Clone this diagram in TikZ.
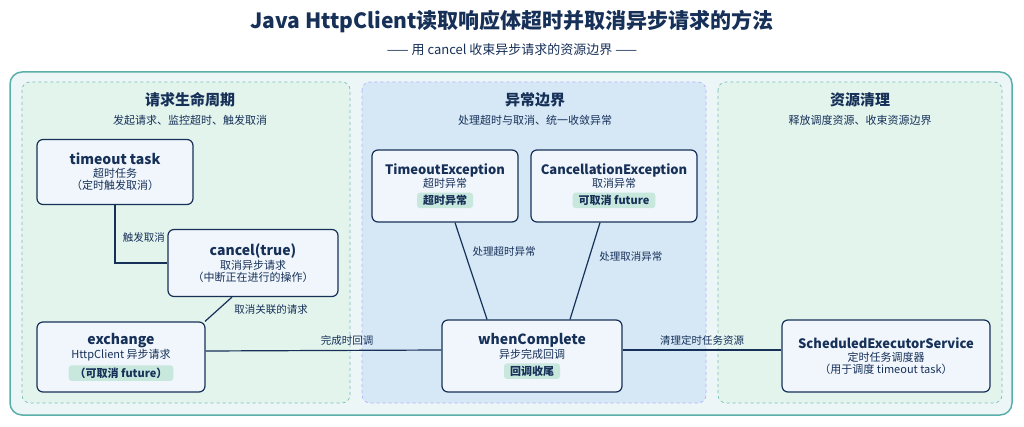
\documentclass[tikz,border=0pt]{standalone}
\usepackage{fontspec}
\setmainfont{Noto Sans CJK SC}
\usetikzlibrary{positioning}
\definecolor{navy}{RGB}{22, 48, 88}
\definecolor{teal}{RGB}{90, 175, 170}
\definecolor{pgreen}{RGB}{226, 244, 236}
\definecolor{pblue}{RGB}{214, 232, 246}
\definecolor{boxfill}{RGB}{240, 246, 252}
\definecolor{badge}{RGB}{200, 232, 222}
\definecolor{outer}{RGB}{236, 246, 246}
\newcommand\badgetxt[1]{\tikz[baseline=(bg.base)]\node (bg) [rectangle, fill=badge, draw=none, rounded corners=3pt, minimum width=0pt, minimum height=0pt, inner xsep=6pt, inner ysep=2.5pt, font=\bfseries\fontsize{11}{13}\selectfont, text=navy] {#1};}
\tikzset{
  box/.style={rectangle, rounded corners=6pt, draw=navy, line width=1.2pt, fill=boxfill, align=center, inner sep=0pt, text=navy},
  panel/.style={rounded corners=8pt, dashed, line width=0.7pt},
  conn/.style={draw=navy, line width=1.2pt},
  lbl/.style={font=\fontsize{10.5}{12}\selectfont, text=navy}
}
\begin{document}
\begin{tikzpicture}[x=1pt, y=1pt]
\useasboundingbox[fill=white] (0,0) rectangle (1024,-427);
% titles
\node (title) at (512,-22) {\bfseries\fontsize{21}{24}\selectfont\color{navy} Java HttpClient读取响应体超时并取消异步请求的方法};
\node (sub) at (512,-50) {\fontsize{13}{15}\selectfont\color{navy} —— 用 cancel 收束异步请求的资源边界 ——};
% frame and panels
\draw[rounded corners=12pt, draw=teal, line width=1.5pt, fill=outer] (10,-72) rectangle (1012,-415);
\draw[panel, draw=teal!80, fill=pgreen] (22,-82) rectangle (350,-403);
\draw[panel, draw=blue!30, fill=pblue] (362,-82) rectangle (706,-403);
\draw[panel, draw=teal!80, fill=pgreen] (718,-82) rectangle (1002,-403);
\node (p1) at (190,-100) {\bfseries\fontsize{15}{17}\selectfont\color{navy} 请求生命周期};
\node (p1s) at (190,-120) {\fontsize{11}{13}\selectfont\color{navy} 发起请求、监控超时、触发取消};
\node (p2) at (535,-100) {\bfseries\fontsize{15}{17}\selectfont\color{navy} 异常边界};
\node (p2s) at (535,-120) {\fontsize{11}{13}\selectfont\color{navy} 处理超时与取消、统一收敛异常};
\node (p3) at (860,-100) {\bfseries\fontsize{15}{17}\selectfont\color{navy} 资源清理};
\node (p3s) at (860,-120) {\fontsize{11}{13}\selectfont\color{navy} 释放调度资源、收束资源边界};
% nodes
\node (timeout) [box, minimum width=156pt, minimum height=65pt] at (115,-172) {{\bfseries\fontsize{14}{17}\selectfont timeout task}\\[1pt]\fontsize{11}{15}\selectfont 超时任务\\\fontsize{11}{15}\selectfont （定时触发取消）};
\node (cancel) [box, minimum width=170pt, minimum height=67pt] at (253,-263) {{\bfseries\fontsize{14}{17}\selectfont cancel(true)}\\[1pt]\fontsize{11}{15}\selectfont 取消异步请求\\\fontsize{11}{15}\selectfont （中断正在进行的操作）};
\node (exchange) [box, minimum width=168pt, minimum height=70pt] at (121,-357) {{\bfseries\fontsize{14}{17}\selectfont exchange}\\[1pt]\fontsize{11}{15}\selectfont HttpClient 异步请求\\[3pt]\badgetxt{（可取消 future）}};
\node (texc) [box, minimum width=146pt, minimum height=72pt] at (445,-186) {{\bfseries\fontsize{13}{16}\selectfont TimeoutException}\\[1pt]\fontsize{11}{15}\selectfont 超时异常\\[3pt]\badgetxt{超时异常}};
\node (cexc) [box, minimum width=166pt, minimum height=72pt] at (614,-186) {{\bfseries\fontsize{13}{16}\selectfont CancellationException}\\[1pt]\fontsize{11}{15}\selectfont 取消异常\\[3pt]\badgetxt{可取消 future}};
\node (when) [box, minimum width=180pt, minimum height=72pt] at (532,-356) {{\bfseries\fontsize{14}{17}\selectfont whenComplete}\\[1pt]\fontsize{11}{15}\selectfont 异步完成回调\\[3pt]\badgetxt{回调收尾}};
\node (sched) [box, minimum width=208pt, minimum height=72pt] at (886,-356) {{\bfseries\fontsize{13}{16}\selectfont ScheduledExecutorService}\\[1pt]\fontsize{11}{15}\selectfont 定时任务调度器\\\fontsize{11}{15}\selectfont （用于调度 timeout task）};
% connectors
\draw[conn] (timeout.south) |- (cancel.west) node[lbl, pos=0.28, right=4pt] {触发取消};
\draw[conn] ([xshift=-21pt]cancel.south) -- ([xshift=84pt]exchange.north) node[lbl, midway, right=12pt] {取消关联的请求};
\draw[conn] ([yshift=6pt]exchange.east) -- ([yshift=6pt]when.west) node[lbl, pos=0.6, above=1pt] {完成时回调};
\draw[conn] ([xshift=10pt]texc.south) -- ([xshift=-45pt]when.north) node[lbl, pos=0.3, right=4pt] {处理超时异常};
\draw[conn] ([xshift=-14pt]cexc.south) -- ([xshift=38pt]when.north) node[lbl, pos=0.35, right=6pt] {处理取消异常};
\draw[conn] ([yshift=6pt]when.east) -- ([yshift=6pt]sched.west) node[lbl, midway, above=1pt] {清理定时任务资源};
\end{tikzpicture}
\end{document}
